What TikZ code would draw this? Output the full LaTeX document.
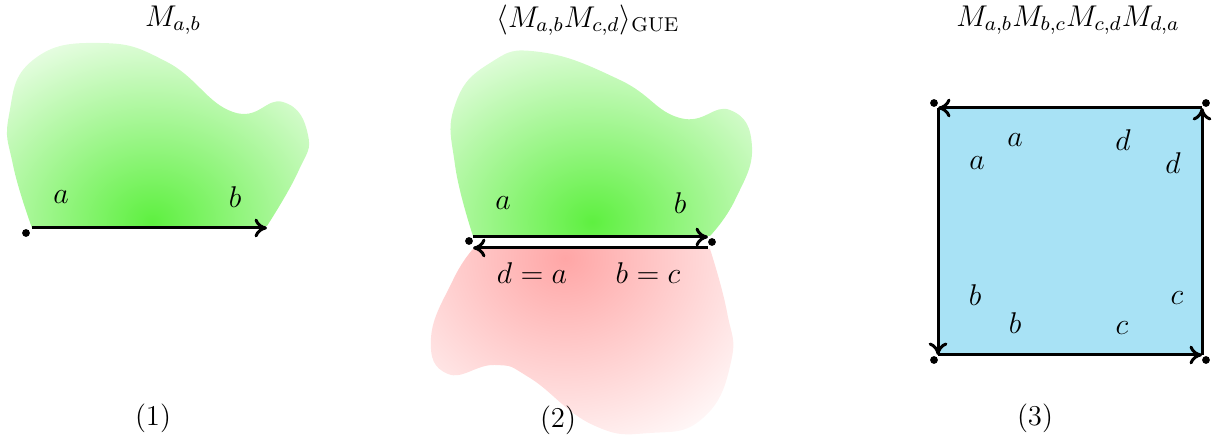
\documentclass[tikz,border=0pt]{standalone}
\usepackage{amsmath}
\usepackage{tikz}
\usetikzlibrary{arrows.meta}
\definecolor{blobGreen}{HTML}{5EF040}
\definecolor{blobRed}{HTML}{FFA6A6}
\definecolor{faceBlue}{HTML}{A8E2F5}

\begin{document}
\begin{tikzpicture}[x=0.4pt,y=-0.4pt, font=\fontsize{11.5}{14}\selectfont,
  edge/.style={line width=1.2pt,-{To[length=5pt,width=7.5pt]}},
  dot/.style={circle,fill=black,inner sep=1.1pt}]
\useasboundingbox (0,0) rectangle (1214,444);
% (1) : one matrix element
\begin{scope}
\clip plot[smooth,tension=0.8] coordinates {(32,228) (13,165) (9,115) (33,60) (100,43) (167,62) (233,112) (283,102) (308,135) (298,172) (267,226)} -- cycle;
\shade[inner color=blobGreen,outer color=white] (152,222) ellipse (110pt and 92pt);
\end{scope}
\coordinate (s1) at (32,228);
\coordinate (e1) at (267,228);
\draw[edge] (s1) -- (e1);
\node[dot] (d1) at (26,233) {};
\node (a1) at (61,197) {$a$};
\node (b1) at (235,197) {$b$};
\node (t1) at (173,20) {$M_{a,b}$};
\node (n1) at (153,418) {(1)};
% (2) : two glued faces
\begin{scope}
\clip plot[smooth,tension=0.8] coordinates {(473,236) (455,165) (455,105) (490,63) (540,52) (620,80) (680,118) (730,110) (752,147) (735,200) (710,236)} -- cycle;
\shade[inner color=blobGreen,outer color=white] (592,222) ellipse (110pt and 92pt);
\end{scope}
\begin{scope}
\clip plot[smooth,tension=0.8] coordinates {(710,249) (727,312) (731,362) (703,418) (650,433) (593,425) (530,378) (495,365) (448,374) (431,338) (453,280) (473,249)} -- cycle;
\shade[inner color=blobRed,outer color=white] (565,258) ellipse (100pt and 90pt);
\end{scope}
\coordinate (s2) at (473,237);
\coordinate (e2) at (708,237);
\coordinate (s3) at (708,248);
\coordinate (e3) at (473,248);
\draw[edge] (s2) -- (e2);
\draw[edge] (s3) -- (e3);
\node[dot] (d2) at (469,241) {};
\node[dot] (d3) at (712,242) {};
\node (a2) at (503,203) {$a$};
\node (b2) at (680,203) {$b$};
\node (da) at (532,273) {$d=a$};
\node (bc) at (648,273) {$b=c$};
\node (t2) at (588,20) {$\langle M_{a,b}M_{c,d}\rangle_{\mathrm{GUE}}$};
\node (n2) at (558,420) {(2)};
% (3) : square face
\coordinate (tl) at (938,108);
\coordinate (tr) at (1202,108);
\coordinate (bl) at (938,355);
\coordinate (br) at (1202,355);
\fill[faceBlue] (tl) rectangle (br);
\draw[edge] (bl) -- (br);
\draw[edge] (br) -- (tr);
\draw[edge] (tr) -- (tl);
\draw[edge] (tl) -- (bl);
\node[dot] (dtl) at (934,103) {};
\node[dot] (dtr) at (1206,103) {};
\node[dot] (dbl) at (934,360) {};
\node[dot] (dbr) at (1206,360) {};
\node (a3) at (1015,140) {$a$};
\node (a4) at (977,163) {$a$};
\node (d4) at (1123,140) {$d$};
\node (d5) at (1173,163) {$d$};
\node (b3) at (975,295) {$b$};
\node (b4) at (1015,323) {$b$};
\node (c3) at (1177,298) {$c$};
\node (c4) at (1122,328) {$c$};
\node (t3) at (1068,20) {$M_{a,b}M_{b,c}M_{c,d}M_{d,a}$};
\node (n3) at (1035,418) {(3)};
\end{tikzpicture}
\end{document}
